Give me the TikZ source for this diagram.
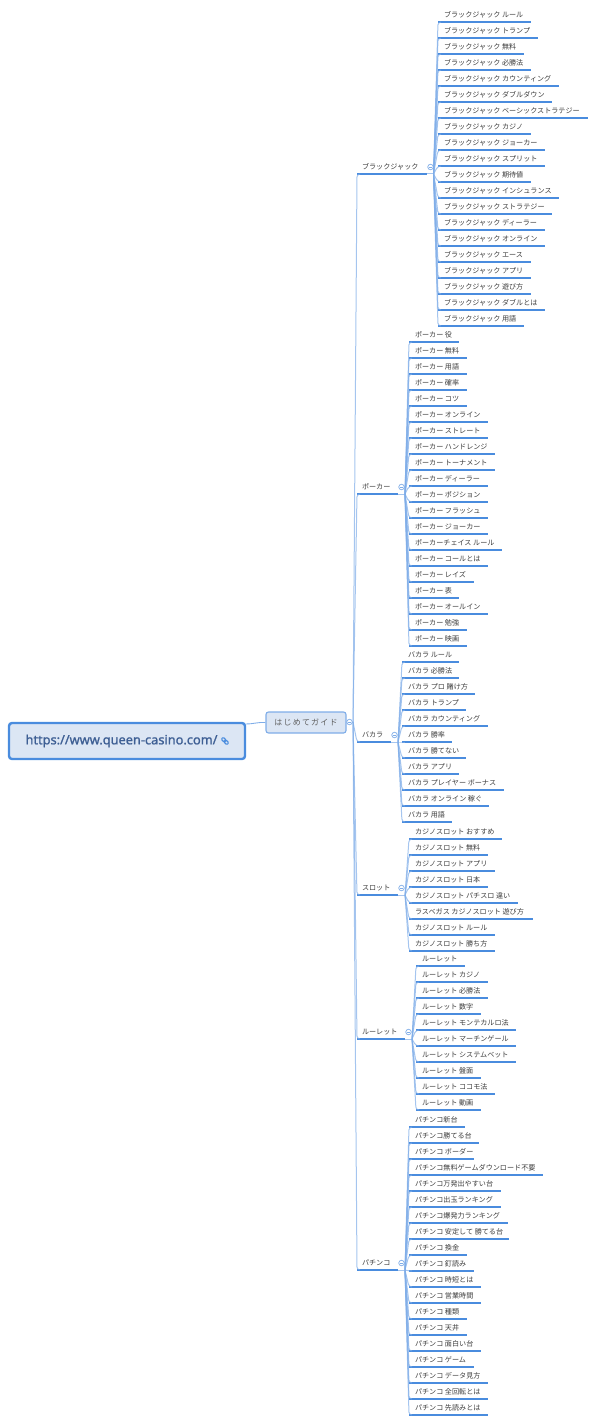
\documentclass[tikz,border=0pt]{standalone}
\usepackage{fontspec}
\setmainfont{Noto Sans CJK JP}
\newfontfamily\rootfont[FakeBold=1.2]{Noto Sans}
\definecolor{uline}{HTML}{4A8CDE}
\definecolor{conn}{HTML}{7FADE8}
\definecolor{boxfill}{HTML}{DCE6F4}
\definecolor{roottxt}{HTML}{3E5F94}
\definecolor{lbl}{HTML}{3C3C3C}
\tikzset{
  leaf/.style={inner sep=0pt,outer sep=0pt,minimum height=14pt,anchor=south west,text=lbl,font=\fontsize{7.1}{8}\selectfont},
  under/.style={draw=uline,line width=1.4pt},
  link/.style={draw=conn,line width=1pt,opacity=0.7,rounded corners=3pt},
  dot/.style={circle,draw=conn,fill=white,line width=0.7pt,minimum size=5.5pt,inner sep=0pt,
    path picture={\draw[conn,line width=0.6pt] ([xshift=-1.6pt]path picture bounding box.center) -- ([xshift=1.6pt]path picture bounding box.center);}},
  rootbox/.style={draw=uline,fill=boxfill,line width=2.4pt,rounded corners=3pt,minimum width=236pt,minimum height=36pt,inner sep=0pt},
  topicbox/.style={draw=conn,fill=boxfill,line width=1.1pt,rounded corners=2.5pt,minimum width=80pt,minimum height=21pt,inner sep=0pt},
}
% #1 name, #2 x start, #3 x end, #4 underline y, #5 text, #6 text indent
\newcommand\topicline[6]{%
  \node[leaf] (#1) at (#2,#4) {\hspace{#6pt}\makebox[\dimexpr #3pt-#2pt-#6pt\relax][l]{#5}};
  \draw[under] (#1.south west) -- (#1.south east);
}
% #1 prefix, #2 hub, #3 x start, #4 first y, #5 list
\newcommand\leaves[5]{%
  \foreach \xe/\txt [count=\i, evaluate=\i as \yy using #4+16*(\i-1)] in {#5} {
    \topicline{#1\i}{#3}{\xe}{\yy}{\txt}{6}
    \draw[link] (#2) -- (#1\i.south west) -- ([xshift=3pt]#1\i.south west);
  }
}
% #1 name, #2 label, #3 underline y, #4 x end, #5 hub x
\newcommand\branch[5]{%
  \topicline{#1}{357}{#4}{#3}{#2}{5}
  \draw[link] (trunk) -- (#1.south west) -- ([xshift=3pt]#1.south west);
  \coordinate (#1hub) at (#5,#3);
  \draw[link] (#1.south east) -- (#1hub);
  \node[dot] (#1dot) at ([shift={(3.5,-7)}]#1.south east) {};
}
\begin{document}
\begin{tikzpicture}[x=1pt,y=-1pt]
\useasboundingbox (0,0) rectangle (597,1423);
\coordinate (trunk) at (353,722);

\node[topicbox,font=\fontsize{8}{9}\selectfont,text=black!62] (topic) at (306,722.5) {\addfontfeature{LetterSpace=15}はじめてガイド};
\node[rootbox,font=\rootfont\fontsize{12.8}{14}\selectfont,text=roottxt,anchor=center] (root) at (127,741) {\hspace{-11pt}\raisebox{-1.5pt}{https://www.queen-casino.com/}};
\draw[draw=conn,line width=0.9pt] (root.east |- 0,724) .. controls (253,724) and (258,722) .. (topic.west);
\draw[link] (topic.east) -- (trunk);
\node[dot] (topicdot) at (349.5,722) {};

% link icon
\begin{scope}[shift={(225,741)},rotate=-45]
  \draw[uline,line width=1.1pt,rounded corners=1pt] (-4,-1.4) rectangle (0.5,1.4);
  \draw[uline,line width=1.1pt,rounded corners=1pt] (-0.5,-1.4) rectangle (4,1.4);
\end{scope}

\branch{bj}{ブラックジャック}{174}{427}{433.5}
\branch{po}{ポーカー}{494}{398}{405}
\branch{ba}{バカラ}{742}{391}{398}
\branch{sl}{スロット}{895}{398}{405}
\branch{ro}{ルーレット}{1039}{405}{412}
\branch{pa}{パチンコ}{1270}{398}{405}

\leaves{bjl}{bjhub}{438}{22}{531/ブラックジャック ルール,538/ブラックジャック トランプ,524/ブラックジャック 無料,531/ブラックジャック 必勝法,559/ブラックジャック カウンティング,552/ブラックジャック ダブルダウン,588/ブラックジャック ベーシックストラテジー,531/ブラックジャック カジノ,545/ブラックジャック ジョーカー,545/ブラックジャック スプリット,531/ブラックジャック 期待値,559/ブラックジャック インシュランス,552/ブラックジャック ストラテジー,545/ブラックジャック ディーラー,545/ブラックジャック オンライン,531/ブラックジャック エース,531/ブラックジャック アプリ,531/ブラックジャック 遊び方,545/ブラックジャック ダブルとは,524/ブラックジャック 用語}

\leaves{pol}{pohub}{409}{342}{459/ポーカー 役,467/ポーカー 無料,467/ポーカー 用語,467/ポーカー 確率,467/ポーカー コツ,488/ポーカー オンライン,488/ポーカー ストレート,495/ポーカー ハンドレンジ,495/ポーカー トーナメント,488/ポーカー ディーラー,488/ポーカー ポジション,488/ポーカー フラッシュ,488/ポーカー ジョーカー,502/ポーカーチェイス ルール,488/ポーカー コールとは,474/ポーカー レイズ,459/ポーカー 表,488/ポーカー オールイン,467/ポーカー 勉強,467/ポーカー 映画}

\leaves{bal}{bahub}{402}{662}{459/バカラ ルール,459/バカラ 必勝法,475/バカラ プロ 賭け方,466/バカラ トランプ,488/バカラ カウンティング,452/バカラ 勝率,466/バカラ 勝てない,459/バカラ アプリ,504/バカラ プレイヤー ボーナス,489/バカラ オンライン 稼ぐ,452/バカラ 用語}

\leaves{sll}{slhub}{409}{839}{502/カジノスロット おすすめ,488/カジノスロット 無料,495/カジノスロット アプリ,488/カジノスロット 日本,518/カジノスロット パチスロ 違い,533/ラスベガス カジノスロット 遊び方,495/カジノスロット ルール,495/カジノスロット 勝ち方}

\leaves{rol}{rohub}{416}{966}{465/ルーレット,488/ルーレット カジノ,488/ルーレット 必勝法,481/ルーレット 数字,516/ルーレット モンテカルロ法,516/ルーレット マーチンゲール,516/ルーレット システムベット,481/ルーレット 盤面,495/ルーレット ココモ法,481/ルーレット 動画}

\leaves{pal}{pahub}{409}{1127}{465/パチンコ新台,479/パチンコ勝てる台,474/パチンコ ボーダー,543/パチンコ無料ゲームダウンロード不要,501/パチンコ万発出やすい台,501/パチンコ出玉ランキング,508/パチンコ爆発力ランキング,509/パチンコ 安定して 勝てる台,467/パチンコ 換金,474/パチンコ 釘読み,481/パチンコ 時短とは,481/パチンコ 営業時間,467/パチンコ 種類,467/パチンコ 天井,481/パチンコ 面白い台,474/パチンコ ゲーム,488/パチンコ データ見方,488/パチンコ 全回転とは,488/パチンコ 先読みとは}
\end{tikzpicture}
\end{document}
